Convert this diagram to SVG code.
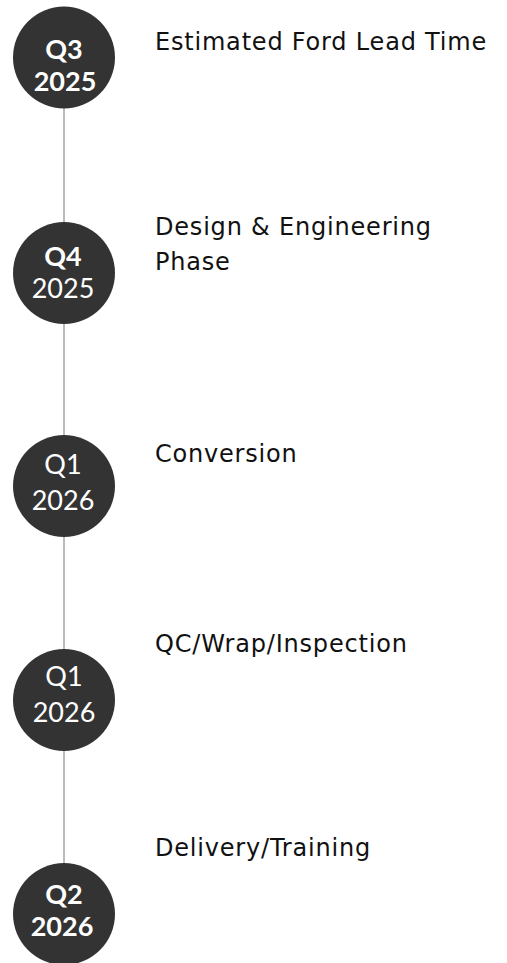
<svg xmlns="http://www.w3.org/2000/svg" width="507" height="963" viewBox="0 0 507 963">
<style>
.dot{fill:#333333;}
.q{font-family:Lato,"Open Sans",sans-serif;font-size:27px;fill:#ffffff;text-anchor:middle;}
.b{font-weight:bold;}
.r{font-weight:normal;}
.lbl{font-family:"DejaVu Sans",Verdana,sans-serif;font-size:24px;fill:#111111;letter-spacing:0.8px;}
.conn{stroke:#bbbbbb;stroke-width:2;fill:none;}
</style>
<rect width="507" height="963" fill="#ffffff"/>
<g id="connectors">
<line class="conn" x1="64" y1="100" x2="64" y2="870"/>
</g>
<g id="node1">
<circle class="dot" cx="64" cy="57.5" r="51"/>
<text class="q b"><tspan x="64" y="59">Q3</tspan><tspan x="65" y="91">2025</tspan></text>
<text class="lbl" x="155" y="50">Estimated Ford Lead Time</text>
</g>
<g id="node2">
<circle class="dot" cx="64" cy="273" r="51"/>
<text class="q"><tspan class="b" x="63" y="266">Q4</tspan><tspan class="r" x="63" y="298">2025</tspan></text>
<text class="lbl" x="155" y="235">Design &amp; Engineering</text>
<text class="lbl" x="155" y="270">Phase</text>
</g>
<g id="node3">
<circle class="dot" cx="64" cy="486" r="51"/>
<text class="q"><tspan x="63" y="474">Q1</tspan><tspan x="63" y="510">2026</tspan></text>
<text class="lbl" x="155" y="462">Conversion</text>
</g>
<g id="node4">
<circle class="dot" cx="64" cy="700" r="51"/>
<text class="q"><tspan x="64" y="686">Q1</tspan><tspan x="64" y="722">2026</tspan></text>
<text class="lbl" x="155" y="652">QC/Wrap/Inspection</text>
</g>
<g id="node5">
<circle class="dot" cx="64" cy="914" r="51"/>
<text class="q b"><tspan x="64" y="904">Q2</tspan><tspan x="62" y="936">2026</tspan></text>
<text class="lbl" x="155" y="856">Delivery/Training</text>
</g>
</svg>
